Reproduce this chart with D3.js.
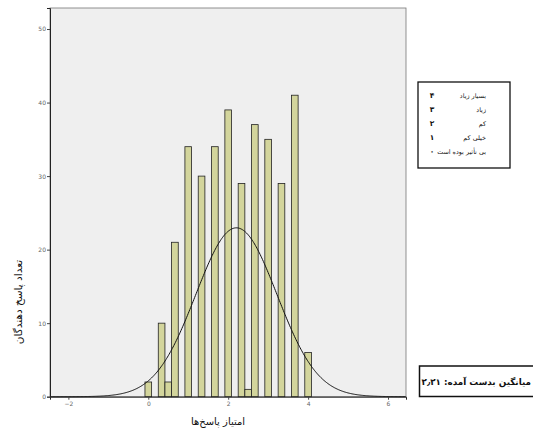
<!DOCTYPE html>
<html>
<head>
<meta charset="utf-8">
<script src="https://cdn.jsdelivr.net/npm/d3@7"></script>
<style>
  body { margin: 0; background: #fff; }
  svg { display: block; }
  .tick text { fill: #666; font-size: 6px; font-family: "DejaVu Sans", sans-serif; }
  .fa { font-family: "DejaVu Sans", sans-serif; direction: rtl; fill: #111; }
</style>
</head>
<body>
<svg id="chart"></svg>
<script>
// histogram data: score (bin centre) and how many respondents
const scores = [0, 1 / 3, 0.5, 2 / 3, 1, 4 / 3, 5 / 3, 2, 7 / 3, 2.5, 8 / 3, 3, 10 / 3, 11 / 3, 4];
const counts = [2, 10, 2, 21, 34, 30, 34, 39, 29, 1, 37, 35, 29, 41, 6];
const binWidth = 1 / 6;

const xTicks = [-2, 0, 2, 4, 6];
const yTicks = [0, 10, 20, 30, 40, 50];

// legend (label, code)
const legendLabels = ["بسیار زیاد", "زیاد", "کم", "خیلی کم", "بی تأثیر بوده است"];
const legendCodes = ["۴", "۳", "۲", "۱", "۰"];

const xTitle = "امتیاز پاسخ‌ها";
const yTitle = "تعداد پاسخ دهندگان";
const meanLabel = "میانگین بدست آمده: ۲٫۲۱";

const W = 533, H = 432;
const plot = { left: 50, right: 406, top: 8, bottom: 396.7 };

const svg = d3.select("#chart").attr("width", W).attr("height", H);

const x = d3.scaleLinear().domain([-2.46, 6.45]).range([plot.left, plot.right]);
const y = d3.scaleLinear().domain([0, 52.86]).range([plot.bottom, plot.top]);

// plot background
svg.append("rect")
    .attr("x", plot.left).attr("y", plot.top)
    .attr("width", plot.right - plot.left).attr("height", plot.bottom - plot.top)
    .attr("fill", "#efefef")
    .attr("stroke", "#777").attr("stroke-width", 0.8);

const data = scores.map((s, i) => ({ score: s, count: counts[i] }));

// bars
svg.append("g").selectAll("rect")
    .data(data)
    .join("rect")
    .attr("x", d => x(d.score - binWidth / 2))
    .attr("y", d => y(d.count))
    .attr("width", d => x(d.score + binWidth / 2) - x(d.score - binWidth / 2))
    .attr("height", d => y(0) - y(d.count))
    .attr("fill", "#d3d59c")
    .attr("stroke", "#222")
    .attr("stroke-width", 0.8);

// normal curve fitted to the histogram (N * bin width * pdf)
const n = d3.sum(counts);
const mean = d3.sum(data, d => d.score * d.count) / n;
const sd = Math.sqrt(d3.sum(data, d => d.count * (d.score - mean) ** 2) / (n - 1));
const pdf = v => Math.exp(-0.5 * ((v - mean) / sd) ** 2) / (sd * Math.sqrt(2 * Math.PI));
const curveX = d3.range(x.domain()[0], x.domain()[1], 0.02);

svg.append("path")
    .datum(curveX)
    .attr("fill", "none")
    .attr("stroke", "#111")
    .attr("stroke-width", 1)
    .attr("d", d3.line().x(v => x(v)).y(v => y(n * binWidth * pdf(v))).curve(d3.curveBasis));

// axes
const xAxis = d3.axisBottom(x).tickValues(xTicks).tickSize(3).tickPadding(2).tickFormat(d3.format("d"));
svg.append("g").attr("class", "xaxis")
    .attr("transform", "translate(0," + plot.bottom + ")")
    .call(xAxis);

const yAxis = d3.axisLeft(y).tickValues(yTicks).tickSize(3).tickPadding(1);
svg.append("g").attr("class", "yaxis")
    .attr("transform", "translate(" + plot.left + ",0)")
    .call(yAxis);

svg.selectAll(".domain").attr("stroke", "#222").attr("stroke-width", 1);
svg.selectAll(".tick line").attr("stroke", "#444");

// axis titles
svg.append("text")
    .attr("class", "fa")
    .attr("x", 218).attr("y", 425)
    .attr("text-anchor", "middle")
    .attr("font-size", 10)
    .text(xTitle);

svg.append("text")
    .attr("class", "fa")
    .attr("transform", "translate(22,302) rotate(-90)")
    .attr("text-anchor", "middle")
    .attr("font-size", 10.5)
    .text(yTitle);

// legend box
const legend = svg.append("g");
legend.append("rect")
    .attr("x", 418).attr("y", 82).attr("width", 92).attr("height", 86)
    .attr("fill", "#fff").attr("stroke", "#111").attr("stroke-width", 1.3);

legend.selectAll("text.lab")
    .data(legendLabels)
    .join("text")
    .attr("class", "lab fa")
    .attr("x", 486).attr("y", (d, i) => 98 + i * 14)
    .attr("text-anchor", "start")
    .attr("font-size", 6.4)
    .text(d => d);

legend.selectAll("text.code")
    .data(legendCodes)
    .join("text")
    .attr("class", "code fa")
    .attr("x", 432).attr("y", (d, i) => 98 + i * 14)
    .attr("text-anchor", "middle")
    .attr("font-size", 7.5)
    .attr("font-weight", "bold")
    .text(d => d);

// mean box (runs past the right edge, as in the original)
svg.append("rect")
    .attr("x", 419.5).attr("y", 366).attr("width", 130).attr("height", 30.5)
    .attr("fill", "#fff").attr("stroke", "#111").attr("stroke-width", 1.5);

svg.append("text")
    .attr("class", "fa")
    .attr("x", 531).attr("y", 385)
    .attr("text-anchor", "start")
    .attr("font-size", 8.8)
    .attr("font-weight", "bold")
    .text(meanLabel);
</script>
</body>
</html>
